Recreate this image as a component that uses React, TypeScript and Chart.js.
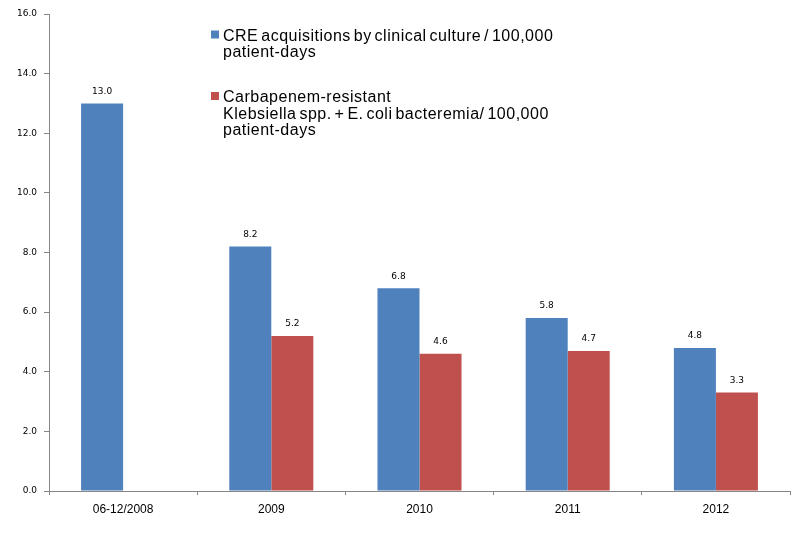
import React, { useEffect, useRef } from "react";
import { Chart, registerables } from "chart.js";

Chart.register(...registerables);

const categories = ["06-12/2008", "2009", "2010", "2011", "2012"];
const creAcquisitions = [13.0, 8.2, 6.8, 5.8, 4.8];
const crBacteremia: (number | null)[] = [null, 5.2, 4.6, 4.7, 3.3];
const seriesNames = [
  ["CRE acquisitions by clinical culture / 100,000", "patient-days"],
  ["Carbapenem-resistant", "Klebsiella spp. + E. coli bacteremia/ 100,000", "patient-days"],
];
const seriesColors = ["#4F81BD", "#C0504D"];

const dataLabelPlugin = {
  id: "dataLabels",
  afterDatasetsDraw(chart: any) {
    const ctx = chart.ctx;
    ctx.save();
    ctx.font = "9px 'DejaVu Sans'";
    ctx.fillStyle = "#000";
    ctx.textAlign = "center";
    ctx.textBaseline = "middle";
    chart.data.datasets.forEach((ds: any, i: number) => {
      const meta = chart.getDatasetMeta(i);
      meta.data.forEach((bar: any, j: number) => {
        const v = ds.data[j];
        if (v == null) return;
        ctx.fillText(Number(v).toFixed(1), bar.x, bar.y - 12);
      });
    });
    ctx.restore();
  },
};

const legendPlugin = {
  id: "customLegend",
  afterDraw(chart: any) {
    const ctx = chart.ctx;
    ctx.save();
    ctx.font = "16px 'Liberation Sans', Arial, sans-serif";
    try {
      ctx.letterSpacing = "0.5px";
      ctx.wordSpacing = "-2px";
    } catch (e) {}
    ctx.textAlign = "left";
    ctx.textBaseline = "alphabetic";
    const startY = [40.5, 102];
    const lineH = 16.5;
    seriesNames.forEach((lines, i) => {
      ctx.fillStyle = seriesColors[i];
      ctx.fillRect(211, startY[i] - 10, 8, 8);
      ctx.fillStyle = "#000";
      lines.forEach((t, k) => {
        ctx.fillText(t, 223, startY[i] + k * lineH);
      });
    });
    ctx.restore();
  },
};

export default function App() {
  const ref = useRef<HTMLCanvasElement>(null);
  useEffect(() => {
    if (!ref.current) return;
    const chart = new Chart(ref.current, {
      type: "bar",
      data: {
        labels: categories,
        datasets: [
          {
            label: seriesNames[0].join(" "),
            data: creAcquisitions,
            backgroundColor: seriesColors[0],
            categoryPercentage: 0.567,
            barPercentage: 1,
          },
          {
            label: seriesNames[1].join(" "),
            data: crBacteremia,
            backgroundColor: seriesColors[1],
            categoryPercentage: 0.567,
            barPercentage: 1,
          },
        ],
      },
      options: {
        animation: false,
        responsive: false,
        layout: { padding: { left: 0, right: 14, top: 14, bottom: 0 } },
        plugins: { legend: { display: false }, tooltip: { enabled: false } },
        scales: {
          x: {
            grid: {
              drawOnChartArea: false,
              offset: true,
              tickLength: 4,
              color: "#868686",
            },
            border: { color: "#868686" },
            ticks: {
              color: "#000",
              font: { family: "'Liberation Sans', Arial", size: 12 },
              padding: 7,
              maxRotation: 0,
            },
            afterFit: (s: any) => {
              s.height = 42;
            },
          },
          y: {
            min: 0,
            max: 16,
            grid: {
              drawOnChartArea: false,
              tickLength: 5,
              color: "#868686",
            },
            border: { color: "#868686" },
            ticks: {
              stepSize: 2,
              color: "#000",
              font: { family: "'DejaVu Sans'", size: 9 },
              padding: 7,
              callback: (v: any) => Number(v).toFixed(1),
            },
            afterFit: (s: any) => {
              s.width = 49;
            },
          },
        },
      },
      plugins: [dataLabelPlugin, legendPlugin],
    });
    return () => chart.destroy();
  }, []);
  return (
    <div style={{ position: "fixed", left: 0, top: 0, width: 804, height: 533, background: "#fff" }}>
      <canvas ref={ref} width={804} height={533} />
    </div>
  );
}
